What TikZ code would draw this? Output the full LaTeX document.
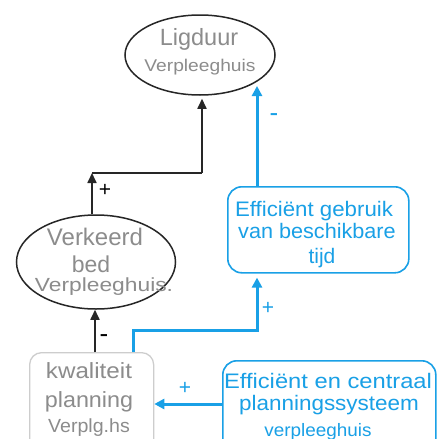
\documentclass[tikz,border=0pt]{standalone}
\usepackage{fontspec}
\setmainfont{Liberation Sans}
\usetikzlibrary{shapes.geometric,arrows.meta}
\definecolor{cblue}{RGB}{25,160,230}
\definecolor{tgray}{RGB}{140,140,140}
\definecolor{bgray}{RGB}{205,205,205}
\newcommand\txl[3]{\scalebox{#2}[1]{\fontsize{#1}{#1}\selectfont #3}}
\begin{document}
\begin{tikzpicture}[x=1pt,y=-1pt,
  ell/.style={draw=black!85, line width=1.5pt, ellipse, inner sep=0},
  gbox/.style={draw=bgray, line width=1.3pt, rounded corners=12pt, inner sep=0},
  bbox/.style={draw=cblue, line width=1.6pt, rounded corners=14pt, inner sep=0},
  txt/.style={anchor=base, inner sep=0},
  gtxt/.style={txt, text=tgray},
  btxt/.style={txt, text=cblue},
  blkline/.style={draw=black!85, line width=1.7pt},
  blk/.style={blkline, -{Triangle[length=10pt,width=9pt]}},
  bluline/.style={draw=cblue, line width=3pt},
  blu/.style={bluline, -{Triangle[length=10pt,width=10pt]}},
  sgn/.style={inner sep=0, font=\fontsize{21}{21}\selectfont},
  sgm/.style={inner sep=0, font=\fontsize{26}{26}\selectfont}]
\useasboundingbox (0,0) rectangle (437,439);
\clip (0,0) rectangle (437,439);
\fill[white] (0,0) rectangle (437,439);

% shapes
\node[ell, minimum width=150pt, minimum height=80pt] (lig) at (200,55) {};
\node[ell, minimum width=159pt, minimum height=94pt] (vb) at (96,262) {};
\node[gbox, minimum width=124pt, minimum height=110pt, anchor=north west] (kw) at (29,352) {};
\node[bbox, minimum width=181pt, minimum height=86pt, anchor=north west] (geb) at (227,186) {};
\node[bbox, minimum width=213pt, minimum height=110pt, anchor=north west] (cen) at (222,360) {};

% texts
\node[gtxt] (lig1) at (199,45) {\txl{23.5}{1.0}{Ligduur}};
\node[gtxt] (lig2) at (200,71) {\txl{17}{1.13}{Verpleeghuis}};
\node[gtxt] (vb1) at (95,245) {\txl{24}{1.0}{Verkeerd}};
\node[gtxt] (vb2) at (91,272) {\txl{23}{1.0}{bed}};
\node[gtxt] (vb3) at (104,291) {\txl{19}{1.2}{Verpleeghuis.}};
\node[gtxt] (kw1) at (89,378) {\txl{22}{1.1}{kwaliteit}};
\node[gtxt] (kw2) at (89,407) {\txl{22}{1.06}{planning}};
\node[gtxt] (kw3) at (89,432) {\txl{19}{1.03}{Verplg.hs}};
\node[btxt] (geb1) at (314,216) {\txl{21}{1.06}{Efficiënt gebruik}};
\node[btxt] (geb2) at (317,238) {\txl{21}{1.03}{van beschikbare}};
\node[btxt] (geb3) at (322,263) {\txl{21}{1.0}{tijd}};
\node[btxt] (cen1) at (328,388) {\txl{21}{1.13}{Efficiënt en centraal}};
\node[btxt] (cen2) at (329,410) {\txl{21}{1.07}{planningssysteem}};
\node[btxt] (cen3) at (318,436) {\txl{18}{1.05}{verpleeghuis}};

% helper coordinates
\coordinate (c1) at (92,173);
\coordinate (c2) at (202,173);
\coordinate (xa) at (95,0);
\coordinate (xb) at (133,0);
\coordinate (c3) at (257,330);
\coordinate (c4) at (257,86);
\coordinate (ya) at (0,404);

% black connectors
\draw[blk] (vb.north -| c1) -- (c1);
\draw[blkline] (c1) -- (c2);
\draw[blk, shorten >=3pt] (c2) -- (c2 |- lig.south);
\draw[blk] (kw.north -| xa) -- (vb.south -| xa);

% blue connectors
\draw[blu, shorten >=4pt] (kw.north -| xb) |- (c3) -- (geb.south -| c3);
\draw[blu] (geb.north -| c3) -- (c4);
\draw[blu] (cen.west |- ya) -- (kw.east |- ya);

% signs
\node[sgn] (s1) at (105,190) {+};
\node[sgm] (s2) at (104,339) {-};
\node[sgm, text=cblue] (s3) at (274,118) {-};
\node[sgn, text=cblue] (s4) at (268,308) {+};
\node[sgn, text=cblue] (s5) at (185,388) {+};
\end{tikzpicture}
\end{document}
